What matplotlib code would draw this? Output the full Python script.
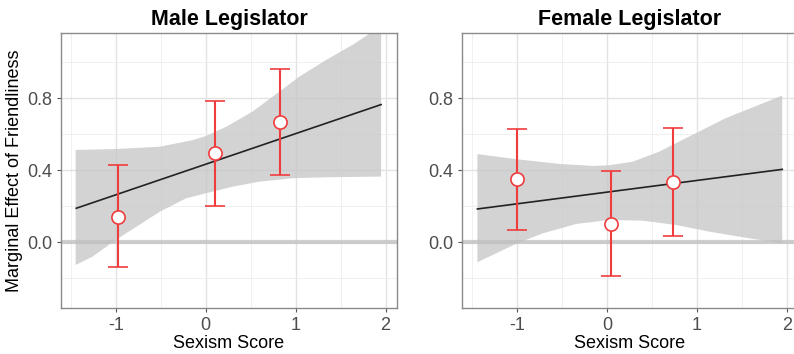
import matplotlib.pyplot as plt
from matplotlib.ticker import MultipleLocator

plt.rcParams['font.family'] = ['Liberation Sans', 'DejaVu Sans']

# Male legislator
male_x = [-0.98, 0.10, 0.83]
male_y = [0.142, 0.494, 0.667]
male_lo = [-0.14, 0.20, 0.375]
male_hi = [0.43, 0.785, 0.96]
male_line_x = [-1.44, 1.95]
male_line_y = [0.189, 0.765]
male_up_x = [-1.447, -1.0, -0.51, -0.14, 0.0, 0.23, 0.52, 0.82, 1.04, 1.34, 1.63, 1.95]
male_up_y = [0.513, 0.518, 0.531, 0.568, 0.59, 0.642, 0.726, 0.837, 0.92, 1.013, 1.096, 1.20]
male_dn_x = [-1.447, -1.26, -1.0, -0.77, -0.51, -0.22, 0.0, 0.3, 0.6, 0.97, 1.34, 1.95]
male_dn_y = [-0.126, -0.08, 0.013, 0.087, 0.17, 0.244, 0.272, 0.309, 0.337, 0.356, 0.361, 0.365]

# Female legislator
female_x = [-1.0, 0.05, 0.74]
female_y = [0.352, 0.10, 0.337]
female_lo = [0.07, -0.187, 0.035]
female_hi = [0.63, 0.398, 0.637]
female_line_x = [-1.44, 1.95]
female_line_y = [0.185, 0.405]
female_up_x = [-1.44, -1.0, -0.52, -0.155, 0.03, 0.29, 0.58, 0.95, 1.32, 1.69, 1.95]
female_up_y = [0.49, 0.461, 0.435, 0.424, 0.428, 0.448, 0.503, 0.596, 0.689, 0.763, 0.815]
female_dn_x = [-1.44, -1.0, -0.71, -0.34, 0.03, 0.4, 0.77, 1.14, 1.51, 1.95]
female_dn_y = [-0.111, -0.006, 0.05, 0.102, 0.124, 0.12, 0.096, 0.059, 0.028, -0.006]

fig = plt.figure(figsize=(7.94, 3.54), dpi=100)
ax1 = fig.add_axes([0.0768, 0.130, 0.423, 0.777])
ax2 = fig.add_axes([0.582, 0.130, 0.423, 0.777])

panels = [
    (ax1, 'Male Legislator', male_x, male_y, male_lo, male_hi, male_line_x, male_line_y,
     male_up_x, male_up_y, male_dn_x, male_dn_y),
    (ax2, 'Female Legislator', female_x, female_y, female_lo, female_hi, female_line_x,
     female_line_y, female_up_x, female_up_y, female_dn_x, female_dn_y),
]

for ax, title, px, py, lo, hi, lx, ly, ux, uy, dx, dy in panels:
    ax.set_xlim(-1.61, 2.125)
    ax.set_ylim(-0.365, 1.163)
    ax.set_xticks([-1, 0, 1, 2])
    ax.set_xticklabels(['-1', '0', '1', '2'])
    ax.xaxis.set_minor_locator(MultipleLocator(0.5))
    ax.set_yticks([0.0, 0.4, 0.8])
    ax.set_yticklabels(['0.0', '0.4', '0.8'])
    ax.set_yticks([-0.2, 0.2, 0.6, 1.0], minor=True)
    ax.grid(True, which='major', color='#e3e3e3', lw=1.0, zorder=0)
    ax.grid(True, which='minor', color='#eeeeee', lw=0.6, zorder=0)
    ax.tick_params(which='major', length=3, color='#555555', labelcolor='#4d4d4d', labelsize=13)
    ax.tick_params(which='minor', length=0)
    for s in ax.spines.values():
        s.set_color('#8a8a8a')
        s.set_linewidth(1.0)
    ax.set_axisbelow(True)

    # ribbon polygon: upper edge left->right, lower edge right->left
    poly_x = ux + dx[::-1]
    poly_y = uy + dy[::-1]
    ax.fill(poly_x, poly_y, color='#c8c8c8', alpha=0.8, lw=0, zorder=1)
    ax.axhline(0, color='#bfbfbf', alpha=0.75, lw=3, zorder=1.5)
    ax.plot(lx, ly, color='#222222', lw=1.2, zorder=2)
    yerr = [[y - l for y, l in zip(py, lo)], [h - y for y, h in zip(py, hi)]]
    ax.errorbar(px, py, yerr=yerr, fmt='o', color='#f03c3c', ecolor='#f03c3c',
                elinewidth=1.5, capsize=7, capthick=1.5, markersize=9.5,
                markerfacecolor='white', markeredgecolor='#f03c3c', markeredgewidth=1.2,
                zorder=3)
    ax.set_title(title, fontsize=15.5, fontweight='bold', pad=6)
    ax.set_xlabel('Sexism Score', fontsize=13, labelpad=1)

ax1.set_ylabel('Marginal Effect of Friendliness', fontsize=13, labelpad=3)

fig.savefig('out.png', dpi=100)
